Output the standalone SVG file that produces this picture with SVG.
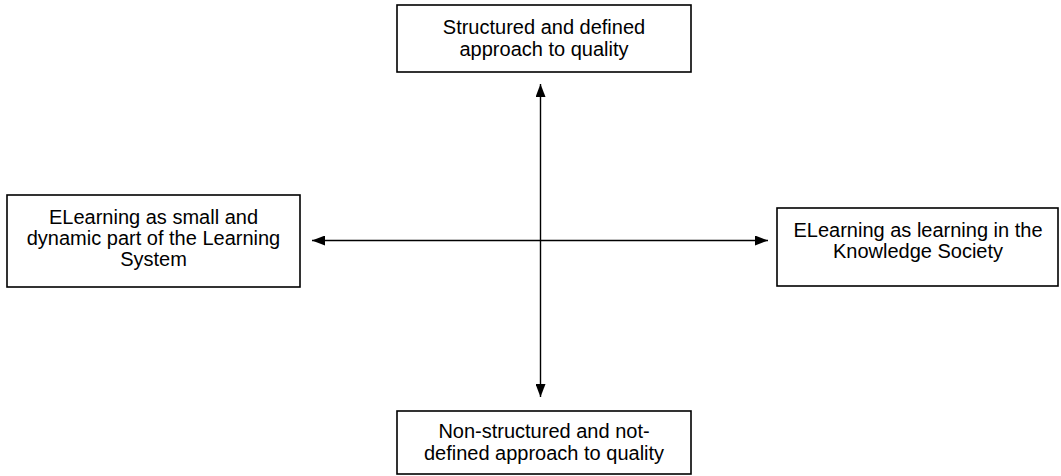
<svg xmlns="http://www.w3.org/2000/svg" width="1061" height="476" viewBox="0 0 1061 476">
<style>
.box{fill:#fff;stroke:#000;stroke-width:1.6}
.lbl{font-family:"Liberation Sans",Arial,sans-serif;font-size:20px;fill:#000;text-anchor:middle}
.conn{stroke:#000;stroke-width:1.4;fill:none}
</style>
<defs>
<marker id="ah" markerUnits="userSpaceOnUse" markerWidth="13" markerHeight="10" refX="13" refY="5" orient="auto-start-reverse">
<path d="M0,0 L13,5 L0,10 z" fill="#000"/>
</marker>
</defs>
<rect width="1061" height="476" fill="#fff"/>
<g id="connectors">
<line class="conn" x1="540.5" y1="84" x2="540.5" y2="397" marker-start="url(#ah)" marker-end="url(#ah)"/>
<line class="conn" x1="312" y1="240.5" x2="768" y2="240.5" marker-start="url(#ah)" marker-end="url(#ah)"/>
</g>
<g id="top">
<rect class="box" x="397" y="5" width="294" height="67"/>
<text class="lbl" x="544" y="34">Structured and defined</text>
<text class="lbl" x="544" y="56">approach to quality</text>
</g>
<g id="left">
<rect class="box" x="7" y="195" width="293" height="92"/>
<text class="lbl" x="153.5" y="224">ELearning as small and</text>
<text class="lbl" x="153.5" y="245">dynamic part of the Learning</text>
<text class="lbl" x="153.5" y="266">System</text>
</g>
<g id="right">
<rect class="box" x="777" y="208" width="281" height="78"/>
<text class="lbl" x="918" y="237">ELearning as learning in the</text>
<text class="lbl" x="918" y="258">Knowledge Society</text>
</g>
<g id="bottom">
<rect class="box" x="397" y="411" width="294" height="63"/>
<text class="lbl" x="544" y="438">Non-structured and not-</text>
<text class="lbl" x="544" y="460">defined approach to quality</text>
</g>
</svg>
